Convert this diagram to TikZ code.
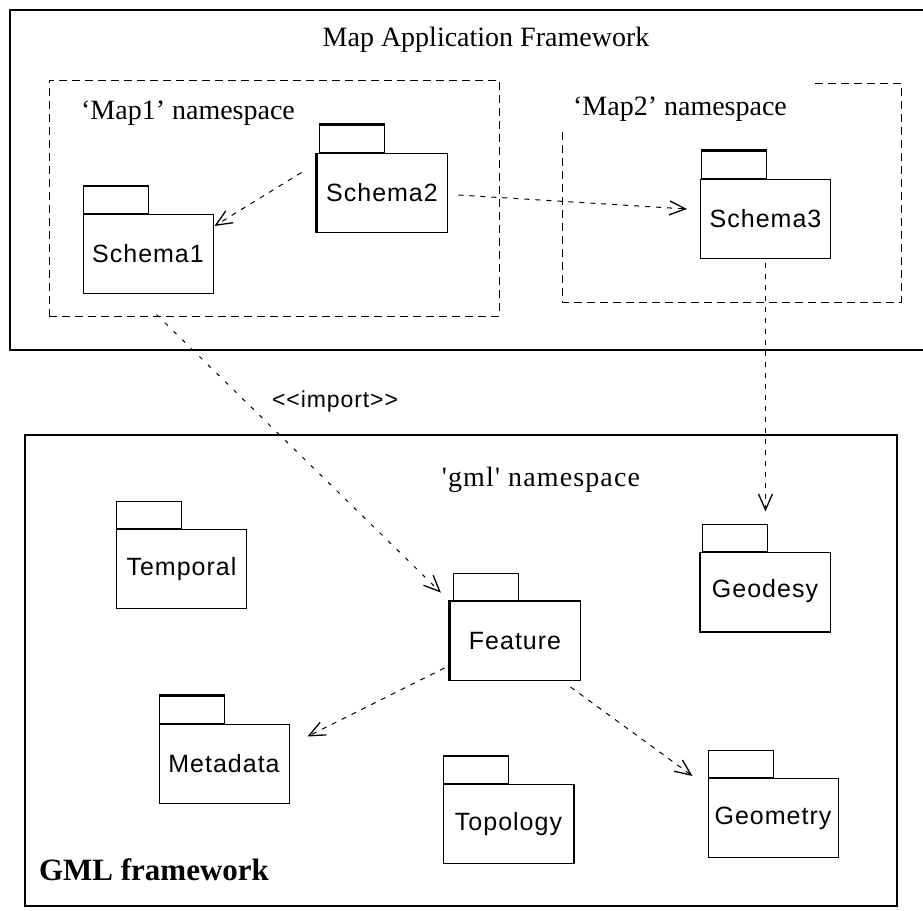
\documentclass[tikz,border=0pt]{standalone}
\usepackage{fontspec}
\newfontfamily\dgserif{Liberation Serif}[Ligatures=TeXOff]
\newfontfamily\dgsans{Liberation Sans}[Ligatures=TeXOff, LetterSpace=4]
\usetikzlibrary{calc,arrows.meta}

\tikzset{
  frame/.style={draw, line width=1.8pt},
  nsbox/.style={draw, line width=1pt, dash pattern=on 8pt off 5pt},
  pkgbody/.style={draw, line width=1pt, minimum width=130pt, minimum height=79pt,
    inner sep=0pt, font=\dgsans\fontsize{25}{30}\selectfont},
  pkgtab/.style={draw, line width=1pt, minimum width=65pt, minimum height=27pt,
    inner sep=0pt, anchor=south west},
  tabtop/.style={line width=2.6pt},
  dep/.style={line width=1pt, dash pattern=on 5pt off 6pt,
    -{Straight Barb[length=16pt,width=14pt,line width=1.3pt]}},
  title/.style={font=\dgserif\fontsize{28}{33}\selectfont, inner sep=0pt},
  boldtitle/.style={font=\dgserif\bfseries\fontsize{31}{37}\selectfont, inner sep=0pt},
  lbl/.style={font=\dgsans\fontsize{23}{27}\selectfont, inner sep=0pt},
}

\begin{document}
\begin{tikzpicture}[x=1pt, y=-1pt]
\useasboundingbox (0,0) rectangle (923,910);
\clip (0,0) rectangle (923,910);

% ---------- Map application framework ----------
\draw[frame] (10,10) rectangle (940,350);
\node[title] (maptitle) at (486,40) {Map Application Framework};

% Map1 namespace
\node[nsbox, minimum width=450pt, minimum height=236pt, inner sep=0pt] (map1) at (274,198) {};
\node[title] (map1lbl) at (188,113) {‘Map1’ namespace};

\node[pkgbody] (s1) at (148,254) {Schema1};
\node[pkgtab] (s1tab) at (s1.north west) {};
\draw[tabtop] (s1tab.north west) -- (s1tab.north east);

\node[pkgbody] (s2) at (382,192.5) {Schema2};
\node[pkgtab] (s2tab) at ($(s2.north west)+(2,0)$) {};
\draw[tabtop] (s2tab.north west) -- (s2tab.north east);
\draw[line width=2.2pt] (s2.north west) -- (s2.south west);

% Map2 namespace (open at top-left behind its label)
\coordinate (m2a) at (815,83);
\coordinate (m2b) at (901,83);
\coordinate (m2c) at (901,302);
\coordinate (m2d) at (562,302);
\coordinate (m2e) at (562,130);
\draw[nsbox] (m2a) -- (m2b) -- (m2c) -- (m2d) -- (m2e);
\node[title] (map2lbl) at (680,109) {‘Map2’ namespace};

\node[pkgbody] (s3) at (765.5,218.5) {Schema3};
\node[pkgtab] (s3tab) at ($(s3.north west)+(1,0)$) {};
\draw[tabtop] (s3tab.north west) -- (s3tab.north east);

% ---------- GML framework ----------
\draw[frame] (25,435) rectangle (897,906);
\node[title] (gmllbl) at (541,480) {\addfontfeature{LetterSpace=4}\char"27 gml\char"27\ namespace};
\node[boldtitle] (gmlfw) at (154,870) {GML framework};

\node[pkgbody] (temporal) at (181.5,569) {Temporal};
\node[pkgtab] (temporaltab) at (temporal.north west) {};

\node[pkgbody] (feature) at (515,641) {Feature};
\node[pkgtab] (featuretab) at ($(feature.north west)+(3,0)$) {};
\draw[line width=2.2pt] (feature.north east) -- (feature.north west) -- (feature.south west);

\node[pkgbody] (geodesy) at (765,591.5) {Geodesy};
\node[pkgtab] (geodesytab) at ($(geodesy.north west)+(2,0)$) {};
\draw[line width=2pt] (geodesy.north west) -- (geodesy.south west) -- (geodesy.south east);

\node[pkgbody] (metadata) at (224,763.5) {Metadata};
\node[pkgtab] (metadatatab) at (metadata.north west) {};
\draw[tabtop] (metadatatab.north west) -- (metadatatab.north east);

\node[pkgbody] (topology) at (508.5,824) {Topology};
\node[pkgtab] (topologytab) at (topology.north west) {};
\draw[tabtop] (topologytab.north west) -- (topologytab.north east);
\draw[line width=2pt] (topology.north east) -- (topology.south east);

\node[pkgbody] (geometry) at (773,818) {Geometry};
\node[pkgtab] (geometrytab) at (geometry.north west) {};

% ---------- dependencies ----------
\draw[dep] ($(s2.west)+(-15,-20)$) -- ($(s1.north east)+(1,12)$);
\draw[dep] ($(s2.east)+(11,2.5)$) -- ($(s3.west)+(-13,-9.5)$);
\draw[dep, shorten <=4pt, shorten >=12pt] (s3.south) -- (s3.south |- geodesytab.north);

\draw[dep, dash pattern=on 4pt off 8pt, shorten >=12pt]
  ($(map1.south west)+(108,-2)$) -- (feature.north west);
\node[lbl] (implbl) at (335,402) {<<import>>};

\draw[dep] ($(feature.south west)+(-5,-13)$) -- ($(metadata.north east)+(18,13)$);
\draw[dep] ($(feature.south east)+(-10,6)$) -- ($(geometry.north west)+(-15,-2)$);
\end{tikzpicture}
\end{document}
